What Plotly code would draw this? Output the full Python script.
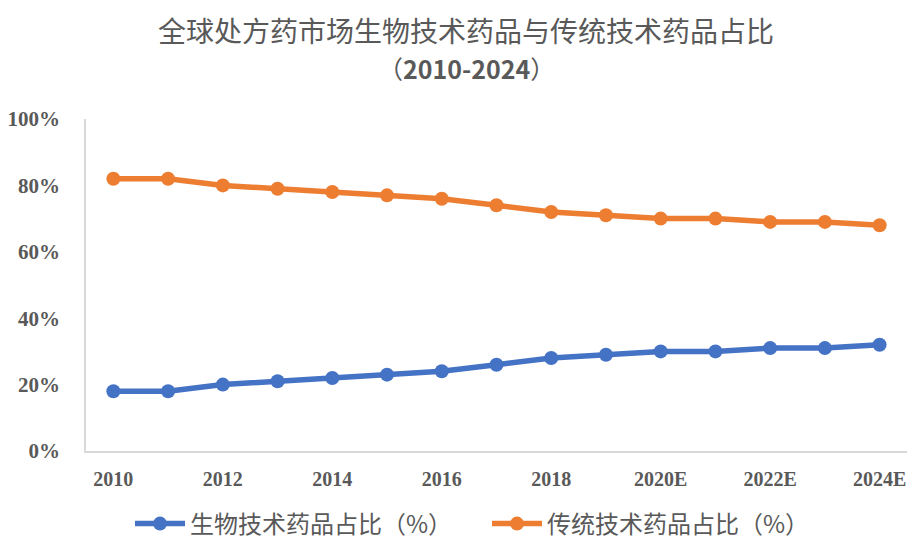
import plotly.graph_objects as go

categories = ["2010", "2011", "2012", "2013", "2014", "2015", "2016", "2017", "2018", "2019",
              "2020E", "2021E", "2022E", "2023E", "2024E"]
bio_share = [18, 18, 20, 21, 22, 23, 24, 26, 28, 29, 30, 30, 31, 31, 32]
trad_share = [82, 82, 80, 79, 78, 77, 76, 74, 72, 71, 70, 70, 69, 69, 68]
tick_labels = ["2010", "2012", "2014", "2016", "2018", "2020E", "2022E", "2024E"]
y_ticks = [0, 20, 40, 60, 80, 100]
y_tick_labels = ["0%", "20%", "40%", "60%", "80%", "100%"]

series_names = ["生物技术药品占比（%）", "传统技术药品占比（%）"]
colors = ["#4472C4", "#ED7D31"]

serif = "Liberation Serif, Times New Roman, serif"
cjk = "Noto Sans CJK SC, Liberation Serif, serif"
gray = "#595959"

fig = go.Figure()
for name, vals, c in zip(series_names, [bio_share, trad_share], colors):
    fig.add_trace(go.Scatter(
        x=categories, y=vals, name=name, mode="lines+markers",
        line=dict(color=c, width=5.5), marker=dict(color=c, size=14),
        cliponaxis=False,
    ))

fig.update_layout(
    width=913, height=541,
    margin=dict(l=86, r=6, t=119, b=90),
    paper_bgcolor="white", plot_bgcolor="white",
    showlegend=True,
    legend=dict(orientation="h", xref="container", yref="container",
                x=(130) / 913, xanchor="left",
                y=1 - 524 / 541, yanchor="middle",
                font=dict(family=cjk, size=24, color=gray),
                itemwidth=50, entrywidth=292, entrywidthmode="pixels"),
    annotations=[
        dict(text="全球处方药市场生物技术药品与传统技术药品占比", xref="paper", yref="paper",
             x=(466 - 86) / 821, y=1 + (119 - 30) / 332, yanchor="middle", showarrow=False,
             font=dict(family=cjk, size=28, color=gray)),
        dict(text="（<b>2010-2024</b>）", xref="paper", yref="paper",
             x=(466 - 86) / 821, y=1 + (119 - 68) / 332, yanchor="middle", showarrow=False,
             font=dict(family=cjk, size=25, color=gray)),
    ],
)

fig.update_xaxes(
    type="category", range=[-0.5, 14.5],
    tickmode="array", tickvals=tick_labels, ticktext=tick_labels,
    showline=True, linecolor="#D9D9D9", linewidth=1.5,
    ticks="", showgrid=False, zeroline=False,
    tickfont=dict(family=serif, size=20, color=gray, weight="bold"),
    ticklabelstandoff=9,
)
fig.update_yaxes(
    range=[0, 100], tickmode="array", tickvals=y_ticks, ticktext=y_tick_labels,
    showline=True, linecolor="#D9D9D9", linewidth=1.5,
    ticks="", showgrid=False, zeroline=False,
    tickfont=dict(family=serif, size=21, color=gray, weight="bold"),
    ticklabelstandoff=20,
)

fig.write_html("out.html")
